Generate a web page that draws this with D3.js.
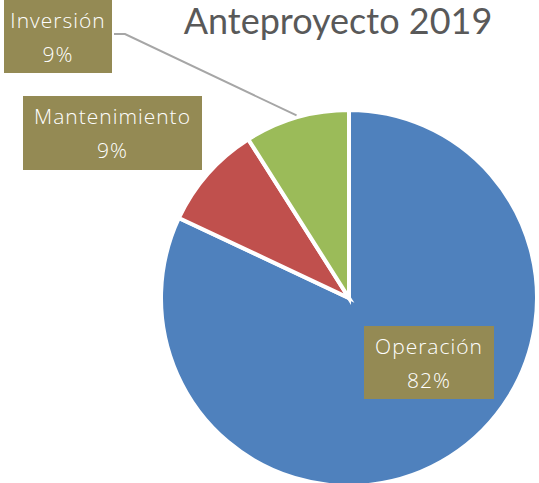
<!DOCTYPE html>
<meta charset="utf-8">
<style>
  body { margin: 0; background: #fff; }
  text { font-family: Lato, "Noto Sans", sans-serif; }
  .lbl text { font-family: "Open Sans", Lato, sans-serif; font-weight: 300; letter-spacing: 1px; }
</style>
<svg width="539" height="483"></svg>
<script src="https://d3js.org/d3.v7.min.js"></script>
<script>
  // Chart data
  var categories = ["Operación", "Mantenimiento", "Inversión"];
  var values = [82, 9, 9];
  var colors = ["#4F81BD", "#C0504D", "#9BBB59"];
  var title = "Anteproyecto 2019";

  var svg = d3.select("svg");
  var cx = 349, cy = 298, radius = 188;

  // Label boxes (placed by hand like the original)
  var boxes = [
    { x: 364, y: 326, w: 130, h: 73 },
    { x: 23, y: 96, w: 179, h: 74 },
    { x: 4, y: 0, w: 108, h: 73 }
  ];

  var pie = d3.pie().sort(null).value(function (d) { return d; });
  var arc = d3.arc().innerRadius(0).outerRadius(radius);
  var edge = d3.arc().innerRadius(radius).outerRadius(radius);
  var arcs = pie(values);
  var total = d3.sum(values);

  var g = svg.append("g")
    .attr("transform", "translate(" + cx + "," + cy + ")");

  g.selectAll("path")
    .data(arcs)
    .enter()
    .append("path")
    .attr("d", arc)
    .attr("fill", function (d, i) { return colors[i]; })
    .attr("stroke", "#fff")
    .attr("stroke-width", 4)
    .attr("stroke-linejoin", "miter");

  // leader line for Inversión
  var p = edge.centroid(arcs[2]);
  svg.append("polyline")
    .attr("points", [[114, 34], [125, 34], [cx + p[0], cy + p[1] - 2]].join(" "))
    .attr("fill", "none")
    .attr("stroke", "#A6A6A6")
    .attr("stroke-width", 2);

  // title
  svg.append("text")
    .attr("x", 338)
    .attr("y", 34)
    .attr("text-anchor", "middle")
    .attr("fill", "#595959")
    .attr("font-size", 36)
    .text(title);

  // data labels
  var lbl = svg.selectAll("g.lbl")
    .data(arcs)
    .enter()
    .append("g")
    .attr("class", "lbl");

  lbl.append("rect")
    .attr("x", function (d, i) { return boxes[i].x; })
    .attr("y", function (d, i) { return boxes[i].y; })
    .attr("width", function (d, i) { return boxes[i].w; })
    .attr("height", function (d, i) { return boxes[i].h; })
    .attr("fill", "#948A54");

  lbl.append("text")
    .attr("x", function (d, i) { return boxes[i].x + boxes[i].w / 2; })
    .attr("y", function (d, i) { return boxes[i].y + 28; })
    .attr("text-anchor", "middle")
    .attr("fill", "#fff")
    .attr("font-size", 21)
    .text(function (d, i) { return categories[i]; });

  lbl.append("text")
    .attr("x", function (d, i) { return boxes[i].x + boxes[i].w / 2; })
    .attr("y", function (d, i) { return boxes[i].y + 62; })
    .attr("text-anchor", "middle")
    .attr("fill", "#fff")
    .attr("font-size", 21)
    .text(function (d) { return Math.round(d.value / total * 100) + "%"; });
</script>
